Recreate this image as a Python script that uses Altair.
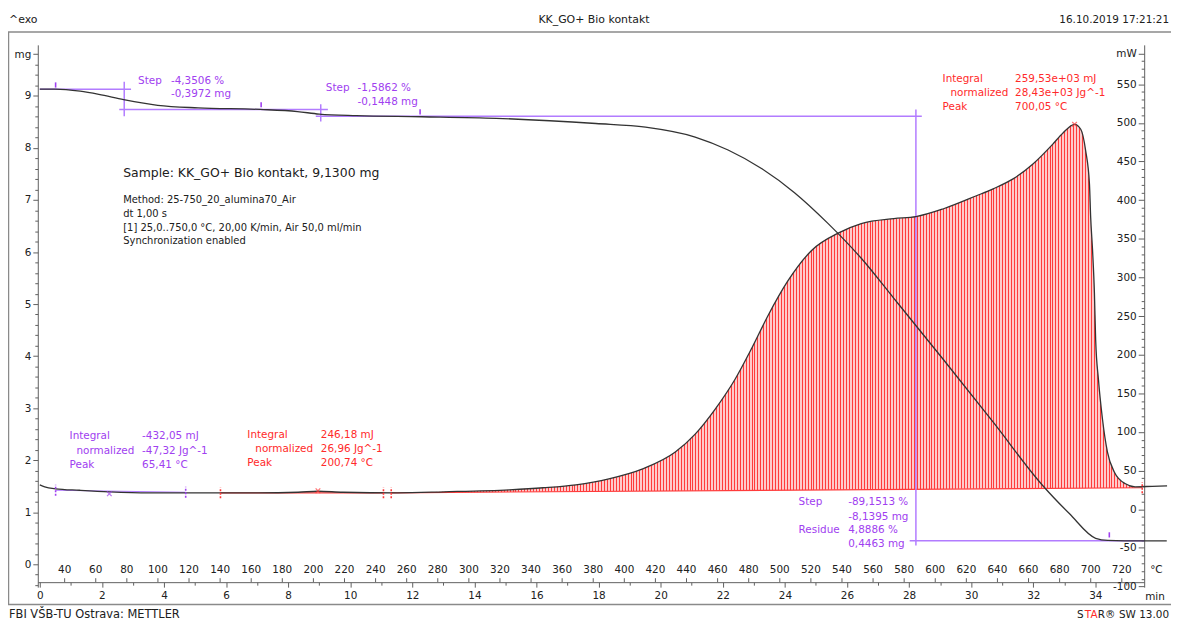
import altair as alt
import pandas as pd

# ---------------- values ----------------
# TGA curve: time (min) vs mass (mg)
tga_time = [0, 0.5, 1.3, 1.9, 2.7, 3.8, 5.1, 7.1, 8.3, 9.0, 10.2, 12.3, 14.7, 17.91, 19.51,
            21.11, 22.17, 23.26, 24.31, 25.37, 26.46, 27.51, 29.11, 30.71, 32.31, 33.17,
            34.01, 34.4, 35.5, 36.3]
tga_mass = [9.13, 9.13, 9.09, 9.03, 8.93, 8.82, 8.77, 8.74, 8.70, 8.65, 8.62, 8.60, 8.57, 8.47, 8.40,
            8.21, 7.96, 7.60, 7.14, 6.56, 5.88, 5.11, 3.93, 2.73, 1.51, 0.97,
            0.50, 0.46, 0.45, 0.45]

# DSC curve: time (min) vs heat flow (mW)
dsc_time = [0, 0.16, 0.51, 1.28, 2.24, 3.52, 5.12, 7.04, 8.32, 8.96, 9.76, 11.52, 13.02, 15.13,
            16.22, 17.27, 18.33, 19.42, 20.47, 21.11, 21.75, 22.39, 22.94, 23.45, 24.09, 24.86,
            25.75, 26.46, 27.51, 28.22, 29.11, 30.17, 30.71, 31.35, 31.99, 32.63, 32.95, 33.33,
            33.53, 33.69, 33.81, 33.85, 33.91, 33.97, 34.01, 34.10, 34.23, 34.39, 34.61, 34.97,
            35.28, 35.83, 36.31]
dsc_power = [31.6, 29.0, 26.5, 24.6, 22.6, 21.3, 21.3, 21.3, 22.0, 23.3, 22.0, 21.3, 22.6, 25.2,
             27.8, 31.6, 39.3, 52.2, 74.0, 97.2, 129.3, 167.9, 209.0, 250.1, 295.1, 334.9,
             358.0, 369.7, 376.1, 378.7, 388.9, 405.7, 414.7, 427.5, 446.8, 472.5, 486.6, 498.2,
             491.8, 463.5, 421.1, 377.4, 335.0, 279.7, 219.3, 167.9, 116.5, 74.0, 48.3, 32.9,
             29.0, 29.7, 30.3]

# axis tick values
min_ticks = list(range(0, 36))
celsius_ticks = list(range(40, 721, 20))
mg_ticks = [round(-0.4 + 0.2 * i, 1) for i in range(52)]
mw_ticks = list(range(-100, 591, 10))

# DSC integral baselines (start time, start mW, end time, end mW)
int_t0 = [0.51, 5.82, 11.32]
int_v0 = [24.6, 21.3, 21.3]
int_t1 = [4.70, 11.07, 35.51]
int_v1 = [22.0, 21.3, 27.8]
int_kind = ["p", "r", "r"]

# DSC peaks
peak_t = [2.24, 8.96, 33.33]
peak_v = [20.0, 23.9, 498.2]
peak_kind = ["p", "r", "r"]

# TGA evaluation markers
tga_mark_t = [0.51, 7.13, 12.25, 34.45]
tga_mark_m = [9.16, 8.78, 8.645, 0.515]

# TGA step construction lines (time, mg) -> (time, mg)
step_t0 = [0.0, 2.72, 2.56, 9.05, 8.89, 28.22, 28.02]
step_m0 = [9.13, 9.27, 8.74, 8.84, 8.61, 8.74, 0.45]
step_t1 = [2.94, 2.72, 9.28, 9.05, 28.41, 28.22, 35.57]
step_m1 = [9.13, 8.61, 8.74, 8.51, 8.61, 0.36, 0.45]

# ---------------- styling ----------------
PURPLE_T = "#A040F0"
PURPLE_L = "#B27CFF"
RED_T = "#FF2A2A"
RED_L = "#FF3B3B"
PALE = "#FFCACA"
INK = "#202020"
CURVE = "#333333"
FONT = "DejaVu Sans"
KIND_COL = {"p": PURPLE_L, "r": RED_L}

W, H = 1114, 546
xs = alt.Scale(domain=[-0.064, 35.573], nice=False, zero=False)
mgs = alt.Scale(domain=[-0.439, 9.981], nice=False, zero=False)
mws = alt.Scale(domain=[-100.8, 601.0], nice=False, zero=False)


def t_of_T(T):
    return (T - 24.0) / 19.97


tga_df = pd.DataFrame({"t": tga_time, "m": tga_mass})
dsc_df = pd.DataFrame({"t": dsc_time, "p": dsc_power})

# frame
frame = alt.Chart(pd.DataFrame({"a": [-29.5], "b": [1150], "c": [-13], "d": [563.5]})).mark_rect(
    fillOpacity=0, stroke="#8a8a8a", strokeWidth=1.5
).encode(
    x=alt.X("a:Q", scale=None, axis=None), x2="b:Q",
    y=alt.Y("c:Q", scale=None, axis=None), y2="d:Q",
)

# hatched integral area (big exotherm)
N = 250
stops = []
for i in range(N):
    a, b, c = i / N, (i + 0.34) / N, (i + 1) / N
    stops += [alt.GradientStop(color=RED_L, offset=a), alt.GradientStop(color=RED_L, offset=b),
              alt.GradientStop(color=PALE, offset=b), alt.GradientStop(color=PALE, offset=c)]
t0, v0, t1, v1 = int_t0[2], int_v0[2], int_t1[2], int_v1[2]
area = alt.Chart(dsc_df).transform_filter(
    f"datum.t >= {t0} && datum.t <= {t1}"
).transform_calculate(
    base=f"{v0} + ({v1} - {v0}) * (datum.t - {t0}) / ({t1} - {t0})"
).mark_area(
    interpolate="monotone",
    fill=alt.Gradient(gradient="linear", stops=stops, x1=0, x2=1, y1=0, y2=0),
).encode(
    x=alt.X("t:Q", scale=xs, axis=None),
    y=alt.Y("p:Q", scale=mws, axis=None),
    y2="base:Q",
)

# integral baselines
bl_rows = []
for k in range(3):
    bl_rows.append({"t": int_t0[k], "v": int_v0[k], "seg": k, "col": KIND_COL[int_kind[k]]})
    bl_rows.append({"t": int_t1[k], "v": int_v1[k], "seg": k, "col": KIND_COL[int_kind[k]]})
baselines = alt.Chart(pd.DataFrame(bl_rows)).mark_line(strokeWidth=1.2).encode(
    x=alt.X("t:Q", scale=xs, axis=None),
    y=alt.Y("v:Q", scale=mws, axis=None),
    detail="seg:N",
    color=alt.Color("col:N", scale=None, legend=None),
)

# baseline limit markers (dashed)
lim_rows = []
for k in range(3):
    for tt, vv in ((int_t0[k], int_v0[k]), (int_t1[k], int_v1[k])):
        lim_rows.append({"t": tt, "v": vv, "col": RED_L if int_kind[k] == "r" else PURPLE_T})
limits = alt.Chart(pd.DataFrame(lim_rows)).transform_calculate(
    lo="datum.v - 7", hi="datum.v + 7"
).mark_rule(strokeWidth=1.6, strokeDash=[2, 1.5]).encode(
    x=alt.X("t:Q", scale=xs, axis=None),
    y=alt.Y("lo:Q", scale=mws, axis=None), y2="hi:Q",
    color=alt.Color("col:N", scale=None, legend=None),
)

# step construction lines
st_rows = []
for k in range(len(step_t0)):
    st_rows.append({"t": step_t0[k], "m": step_m0[k], "seg": k})
    st_rows.append({"t": step_t1[k], "m": step_m1[k], "seg": k})
steps = alt.Chart(pd.DataFrame(st_rows)).mark_line(color=PURPLE_L, strokeWidth=1.5).encode(
    x=alt.X("t:Q", scale=xs, axis=None),
    y=alt.Y("m:Q", scale=mgs, axis=None),
    detail="seg:N",
)

# DSC curve with mW axis (drawn inside at right edge)
mw_axis = alt.Axis(
    values=mw_ticks, orient="left", offset=-W, title=None, grid=False, labelOverlap=False,
    labelExpr="datum.value == 590 ? 'mW' : (datum.value % 50 == 0 ? toString(datum.value) : '')",
    tickSize={"condition": {"test": "datum.value % 50 == 0 || datum.value == 590", "value": 6}, "value": 3},
    labelPadding=2,
)
dsc = alt.Chart(dsc_df).mark_line(color=CURVE, strokeWidth=1.3, interpolate="monotone").encode(
    x=alt.X("t:Q", scale=xs, axis=None),
    y=alt.Y("p:Q", scale=mws, axis=mw_axis),
)

# TGA curve with mg axis and time axis
mg_axis = alt.Axis(
    values=mg_ticks, orient="left", title=None, grid=False, labelOverlap=False,
    labelExpr="datum.value == 9.8 ? 'mg' : (datum.value % 1 == 0 ? toString(datum.value) : '')",
    tickSize={"condition": {"test": "datum.value % 1 == 0 || datum.value == 9.8", "value": 5}, "value": 3},
    labelPadding=2,
)
x_axis = alt.Axis(
    values=min_ticks, orient="bottom", offset=-5, title=None, grid=False, labelOverlap=False,
    labelExpr="datum.value % 2 == 0 ? toString(datum.value) : ''",
    tickSize={"condition": {"test": "datum.value % 2 == 0", "value": 5}, "value": 3},
    labelPadding=3,
)
tga = alt.Chart(tga_df).mark_line(color=CURVE, strokeWidth=1.3, interpolate="monotone").encode(
    x=alt.X("t:Q", scale=xs, axis=x_axis),
    y=alt.Y("m:Q", scale=mgs, axis=mg_axis),
)

# peak markers
pk_df = pd.DataFrame({"t": peak_t, "v": peak_v,
                      "col": [RED_L if k == "r" else PURPLE_T for k in peak_kind]})
peaks = alt.Chart(pk_df).mark_point(
    shape="M-1,-1L1,1M-1,1L1,-1", size=22, filled=False, strokeWidth=1.2
).encode(
    x=alt.X("t:Q", scale=xs, axis=None),
    y=alt.Y("v:Q", scale=mws, axis=None),
    color=alt.Color("col:N", scale=None, legend=None),
)

# TGA evaluation markers
tm_df = pd.DataFrame({"t": tga_mark_t, "m": tga_mark_m})
tmarks = alt.Chart(tm_df).transform_calculate(hi="datum.m + 0.1").mark_rule(
    color=PURPLE_T, strokeWidth=1.6
).encode(
    x=alt.X("t:Q", scale=xs, axis=None),
    y=alt.Y("m:Q", scale=mgs, axis=None), y2="hi:Q",
)

# temperature scale (labels above the time axis)
c_df = pd.DataFrame({"T": celsius_ticks, "t": [t_of_T(T) for T in celsius_ticks]})
c_ticks = alt.Chart(c_df).mark_rule(color="#606060", strokeWidth=1).encode(
    x=alt.X("t:Q", scale=xs, axis=None), y=alt.value(H - 9), y2=alt.value(H - 5),
)
c_labels = alt.Chart(c_df).mark_text(font=FONT, fontSize=10.5, color=INK, baseline="middle").encode(
    x=alt.X("t:Q", scale=xs, axis=None), y=alt.value(H - 17), text="T:N",
)

# annotation texts (text, x px, y px, colour, size, align) in plot coordinates
notes = [
    ("^exo", -29, -25, INK, 11, "left"),
    ("KK_GO+ Bio kontakt", 560, -25, INK, 11, "center"),
    ("16.10.2019 17:21:21", 1139, -25, INK, 10.5, "right"),
    ("FBI VŠB-TU Ostrava: METTLER", -29, 574, INK, 11.5, "left"),
    ("S", 1053, 574, INK, 10.5, "right"),
    ("TA", 1067, 574, RED_T, 10.5, "right"),
    ("R®", 1085, 574, INK, 10.5, "right"),
    ("SW 13.00", 1139, 574, INK, 10.5, "right"),
    ("°C", 1120, 529, INK, 10.5, "left"),
    ("min", 1115, 556, INK, 10.5, "left"),
    ("Sample: KK_GO+ Bio kontakt, 9,1300 mg", 86, 129, INK, 12.5, "left"),
    ("Method: 25-750_20_alumina70_Air", 86, 156, INK, 10, "left"),
    ("dt 1,00 s", 86, 170, INK, 10, "left"),
    ("[1] 25,0..750,0 °C, 20,00 K/min, Air 50,0 ml/min", 86, 184, INK, 10, "left"),
    ("Synchronization enabled", 86, 198, INK, 10, "left"),
    ("Step", 101, 36, PURPLE_T, 10.5, "left"),
    ("-4,3506 %", 134, 36, PURPLE_T, 10.5, "left"),
    ("-0,3972 mg", 134, 50, PURPLE_T, 10.5, "left"),
    ("Step", 290, 43, PURPLE_T, 10.5, "left"),
    ("-1,5862 %", 322, 43, PURPLE_T, 10.5, "left"),
    ("-0,1448 mg", 322, 58, PURPLE_T, 10.5, "left"),
    ("Integral", 911, 34, RED_T, 10.5, "left"),
    ("259,53e+03 mJ", 984, 34, RED_T, 10.5, "left"),
    ("normalized", 919, 48, RED_T, 10.5, "left"),
    ("28,43e+03 Jg^-1", 984, 48, RED_T, 10.5, "left"),
    ("Peak", 911, 63, RED_T, 10.5, "left"),
    ("700,05 °C", 984, 63, RED_T, 10.5, "left"),
    ("Integral", 32, 394, PURPLE_T, 10.5, "left"),
    ("-432,05 mJ", 105, 394, PURPLE_T, 10.5, "left"),
    ("normalized", 39, 409, PURPLE_T, 10.5, "left"),
    ("-47,32 Jg^-1", 105, 409, PURPLE_T, 10.5, "left"),
    ("Peak", 32, 423, PURPLE_T, 10.5, "left"),
    ("65,41 °C", 105, 423, PURPLE_T, 10.5, "left"),
    ("Integral", 211, 393, RED_T, 10.5, "left"),
    ("246,18 mJ", 285, 393, RED_T, 10.5, "left"),
    ("normalized", 219, 407, RED_T, 10.5, "left"),
    ("26,96 Jg^-1", 285, 407, RED_T, 10.5, "left"),
    ("Peak", 211, 421, RED_T, 10.5, "left"),
    ("200,74 °C", 285, 421, RED_T, 10.5, "left"),
    ("Step", 766, 460, PURPLE_T, 10.5, "left"),
    ("-89,1513 %", 816, 460, PURPLE_T, 10.5, "left"),
    ("-8,1395 mg", 816, 475, PURPLE_T, 10.5, "left"),
    ("Residue", 766, 488, PURPLE_T, 10.5, "left"),
    ("4,8886 %", 816, 488, PURPLE_T, 10.5, "left"),
    ("0,4463 mg", 816, 503, PURPLE_T, 10.5, "left"),
]
notes_df = pd.DataFrame(notes, columns=["txt", "px", "py", "col", "fs", "al"])
text_layers = []
for al in ("left", "center", "right"):
    sub = notes_df[notes_df["al"] == al]
    text_layers.append(
        alt.Chart(sub).mark_text(font=FONT, align=al, baseline="middle").encode(
            x=alt.X("px:Q", scale=None, axis=None),
            y=alt.Y("py:Q", scale=None, axis=None),
            text="txt:N",
            color=alt.Color("col:N", scale=None, legend=None),
            size=alt.Size("fs:Q", scale=None, legend=None),
        )
    )

chart = alt.layer(
    frame, area, baselines, steps, dsc, tga, limits, peaks, tmarks, c_ticks, c_labels, *text_layers
).resolve_scale(
    x="independent", y="independent", color="independent", size="independent"
).properties(
    width=W, height=H,
    padding={"left": 30, "top": 35, "right": 27, "bottom": 34},
    autosize=alt.AutoSizeParams(type="none"),
    background="white",
).configure_view(stroke=None).configure_axis(
    labelFont=FONT, labelFontSize=10.5, labelColor=INK,
    domainColor="#606060", tickColor="#606060", domainWidth=1, tickWidth=1,
)

chart.save("out.html", embed_options={"renderer": "svg", "actions": False})
